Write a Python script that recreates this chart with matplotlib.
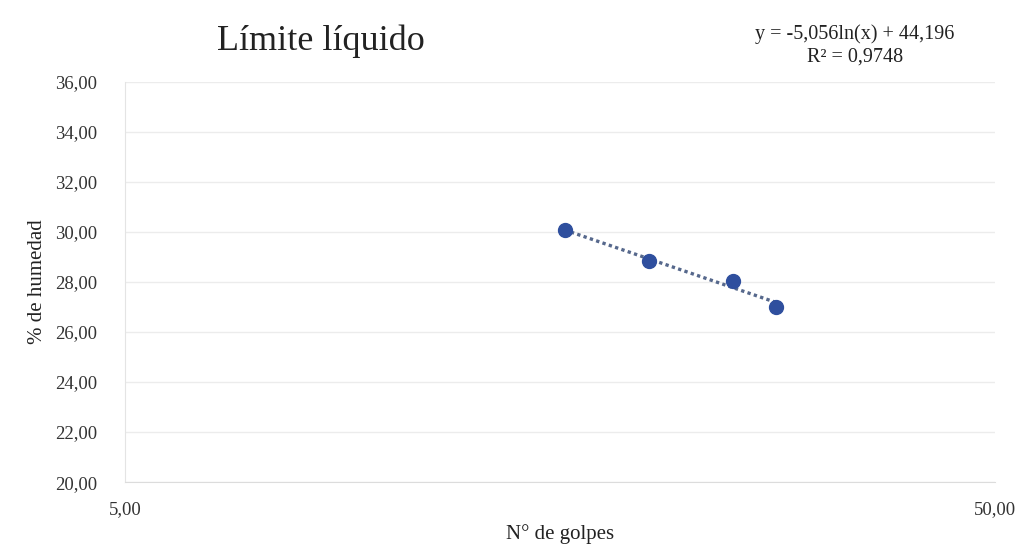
import numpy as np
import matplotlib
matplotlib.use("Agg")
import matplotlib.pyplot as plt
from matplotlib.ticker import FuncFormatter, FixedLocator, NullLocator

plt.rcParams['font.family'] = ['Liberation Serif', 'DejaVu Serif']

# Liquid limit test: blows vs. moisture content
golpes = [16, 20, 25, 28]
humedad = [30.08, 28.84, 28.04, 27.00]
x_ticks = [5, 50]
y_ticks = [20, 22, 24, 26, 28, 30, 32, 34, 36]

fig = plt.figure(figsize=(10.24, 5.46), dpi=100)
ax = fig.add_axes([0.122, 0.117, 0.850, 0.733])

ax.set_xscale('log')
ax.set_xlim(5, 50)
ax.set_ylim(20, 36)

# Logarithmic trend line fitted to the points
ln_x = np.log(golpes)
a, b = np.polyfit(ln_x, humedad, 1)
xt = np.linspace(min(golpes), max(golpes), 50)
ax.plot(xt, a * np.log(xt) + b, linestyle=(0, (1.0, 1.0)), color='#56688c',
        linewidth=2.4, zorder=2)

ax.plot(golpes, humedad, 'o', color='#2f4f9e', markersize=10, zorder=3)

fmt = FuncFormatter(lambda v, p: f"{v:.2f}".replace('.', ','))
ax.xaxis.set_major_locator(FixedLocator(x_ticks))
ax.xaxis.set_minor_locator(NullLocator())
ax.xaxis.set_major_formatter(fmt)
ax.yaxis.set_major_locator(FixedLocator(y_ticks))
ax.yaxis.set_major_formatter(fmt)

ax.grid(axis='y', color='#ececec', linewidth=1)
for s in ['top', 'right']:
    ax.spines[s].set_visible(False)
ax.spines['left'].set_color('#e4e4e4')
ax.spines['bottom'].set_color('#dcdcdc')
ax.tick_params(axis='both', length=0, labelsize=13.5, colors='#333333')
ax.tick_params(axis='x', pad=14)
ax.tick_params(axis='y', pad=20)

ax.set_xlabel('N° de golpes', fontsize=15, color='#222222', labelpad=4)
ax.set_ylabel('% de humedad', fontsize=15, color='#222222', labelpad=6)

fig.text(0.313, 0.925, 'Límite líquido', fontsize=26, color='#222222',
         ha='center', va='center')
fig.text(0.835, 0.938, 'y = -5,056ln(x) + 44,196', fontsize=14.5, color='#222222',
         ha='center', va='center')
fig.text(0.835, 0.895, 'R² = 0,9748', fontsize=14.5, color='#222222',
         ha='center', va='center')

fig.savefig('out.png', dpi=100)
